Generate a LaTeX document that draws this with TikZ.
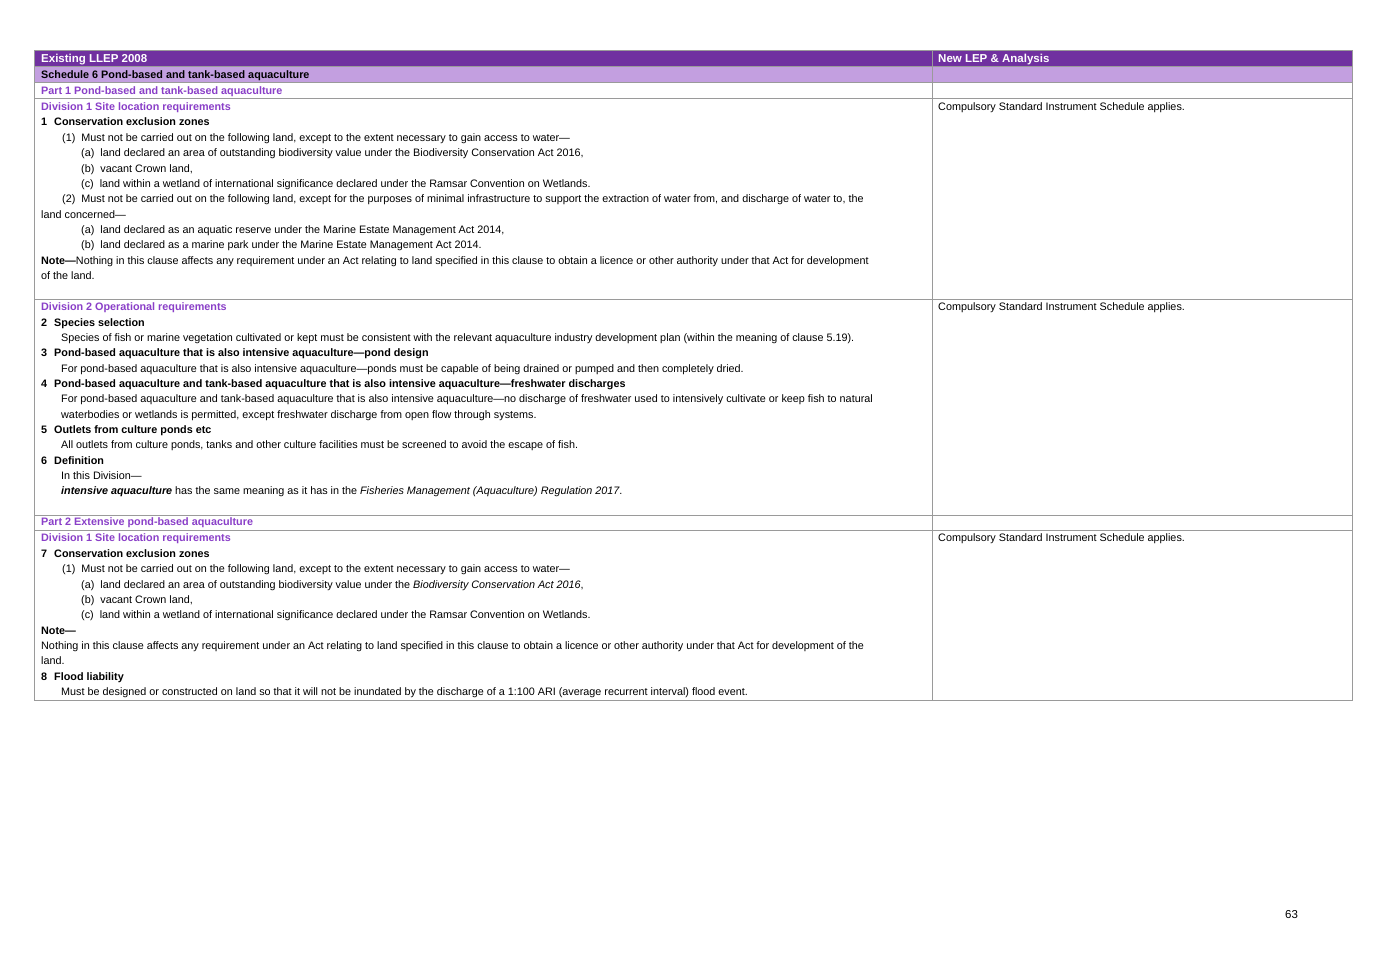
\documentclass[tikz,border=0pt]{standalone}
\usepackage{fontspec}
\setmainfont{Liberation Sans}
\definecolor{hdr}{HTML}{7030A0}
\definecolor{sub}{HTML}{C39FE0}
\definecolor{ptxt}{HTML}{8A3FC8}
\definecolor{grid}{HTML}{9A9A9A}
\begin{document}
\begin{tikzpicture}[x=1pt,y=-1pt,
  txt/.style={inner sep=0pt,anchor=base west,font=\fontsize{10.8}{12}\selectfont},
  ptx/.style={txt,text=ptxt,font=\fontsize{10.8}{12}\selectfont\bfseries},
  gline/.style={draw=grid,line width=0.8pt}]
\useasboundingbox (0,0) rectangle (1382,977);
\fill[white] (0,0) rectangle (1382,977);
\fill[hdr] (34,50) rectangle (1352,66);
\fill[sub] (34,66) rectangle (1352,82);
\draw[gline] (34,50) rectangle (1352,700);
\foreach \y in {66,82,98,299,515,530} \draw[gline] (34,\y) -- (1352,\y);
\draw[gline] (932,50) -- (932,700);
\newcommand\myT[3]{\node[txt] at (#1,#2+4) {#3};}
\newcommand\myB[3]{\node[txt,font=\fontsize{10.8}{12}\selectfont\bfseries] at (#1,#2+4) {#3};}
\newcommand\myP[3]{\node[ptx] at (#1,#2+4) {#3};}
\node[txt,text=white,font=\fontsize{11.5}{12}\selectfont\bfseries] (h1) at (41,62) {Existing LLEP 2008};
\node[txt,text=white,font=\fontsize{11.5}{12}\selectfont\bfseries] (h2) at (938,62) {New LEP \& Analysis};
\myB{41}{74}{Schedule 6 Pond-based and tank-based aquaculture}
\myP{41}{90}{Part 1 Pond-based and tank-based aquaculture}
% row 1
\myP{41}{106}{Division 1 Site location requirements}
\myT{938}{106}{Compulsory Standard Instrument Schedule applies.}
\myB{41}{121}{1\hspace{7pt}Conservation exclusion zones}
\myT{62}{137}{(1)\ \ Must not be carried out on the following land, except to the extent necessary to gain access to water—}
\myT{81}{152}{(a)\ \ land declared an area of outstanding biodiversity value under the Biodiversity Conservation Act 2016,}
\myT{81}{168}{(b)\ \ vacant Crown land,}
\myT{81}{183}{(c)\ \ land within a wetland of international significance declared under the Ramsar Convention on Wetlands.}
\myT{62}{198}{(2)\ \ Must not be carried out on the following land, except for the purposes of minimal infrastructure to support the extraction of water from, and discharge of water to, the}
\myT{41}{214}{land concerned—}
\myT{81}{229}{(a)\ \ land declared as an aquatic reserve under the Marine Estate Management Act 2014,}
\myT{81}{244}{(b)\ \ land declared as a marine park under the Marine Estate Management Act 2014.}
\myT{41}{260}{\textbf{Note—}Nothing in this clause affects any requirement under an Act relating to land specified in this clause to obtain a licence or other authority under that Act for development}
\myT{41}{275}{of the land.}
% row 2
\myP{41}{306}{Division 2 Operational requirements}
\myT{938}{306}{Compulsory Standard Instrument Schedule applies.}
\myB{41}{322}{2\hspace{7pt}Species selection}
\myT{61}{337}{Species of fish or marine vegetation cultivated or kept must be consistent with the relevant aquaculture industry development plan (within the meaning of clause 5.19).}
\myB{41}{352}{3\hspace{7pt}Pond-based aquaculture that is also intensive aquaculture—pond design}
\myT{61}{368}{For pond-based aquaculture that is also intensive aquaculture—ponds must be capable of being drained or pumped and then completely dried.}
\myB{41}{383}{4\hspace{7pt}Pond-based aquaculture and tank-based aquaculture that is also intensive aquaculture—freshwater discharges}
\myT{61}{398}{For pond-based aquaculture and tank-based aquaculture that is also intensive aquaculture—no discharge of freshwater used to intensively cultivate or keep fish to natural}
\myT{61}{414}{waterbodies or wetlands is permitted, except freshwater discharge from open flow through systems.}
\myB{41}{429}{5\hspace{7pt}Outlets from culture ponds etc}
\myT{61}{444}{All outlets from culture ponds, tanks and other culture facilities must be screened to avoid the escape of fish.}
\myB{41}{460}{6\hspace{7pt}Definition}
\myT{61}{475}{In this Division—}
\myT{61}{490}{\textbf{\textit{intensive aquaculture}} has the same meaning as it has in the \textit{Fisheries Management (Aquaculture) Regulation 2017}.}
% part 2
\myP{41}{521}{Part 2 Extensive pond-based aquaculture}
\myP{41}{537}{Division 1 Site location requirements}
\myT{938}{537}{Compulsory Standard Instrument Schedule applies.}
\myB{41}{553}{7\hspace{7pt}Conservation exclusion zones}
\myT{62}{568}{(1)\ \ Must not be carried out on the following land, except to the extent necessary to gain access to water—}
\myT{81}{584}{(a)\ \ land declared an area of outstanding biodiversity value under the \textit{Biodiversity Conservation Act 2016},}
\myT{81}{599}{(b)\ \ vacant Crown land,}
\myT{81}{614}{(c)\ \ land within a wetland of international significance declared under the Ramsar Convention on Wetlands.}
\myB{41}{630}{Note—}
\myT{41}{645}{Nothing in this clause affects any requirement under an Act relating to land specified in this clause to obtain a licence or other authority under that Act for development of the}
\myT{41}{660}{land.}
\myB{41}{676}{8\hspace{7pt}Flood liability}
\myT{61}{691}{Must be designed or constructed on land so that it will not be inundated by the discharge of a 1:100 ARI (average recurrent interval) flood event.}
\node[txt,font=\fontsize{11.5}{12}\selectfont] (pg) at (1285,918) {63};
\end{tikzpicture}
\end{document}
